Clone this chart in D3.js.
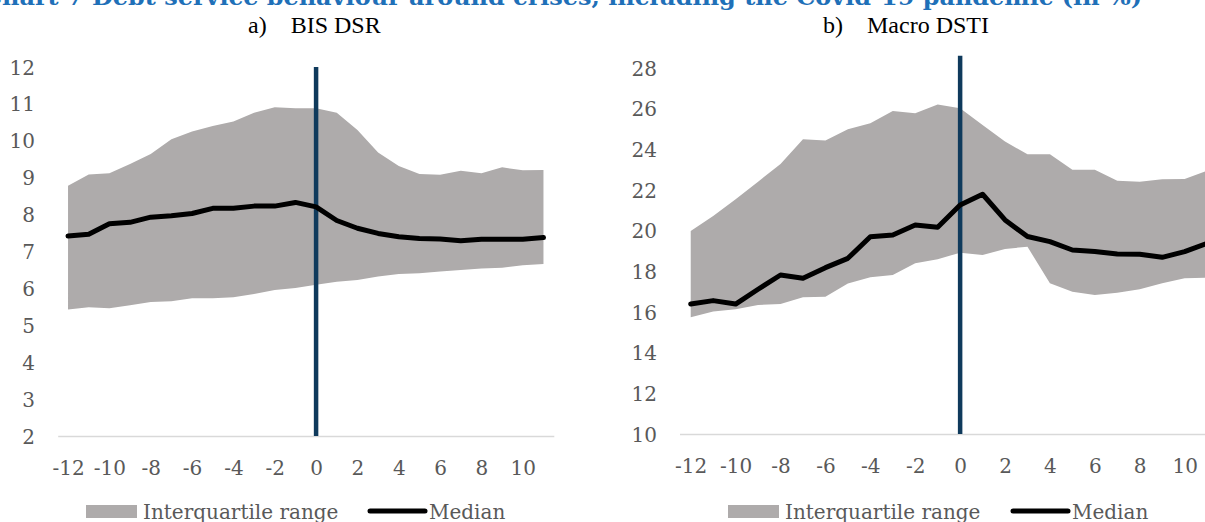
<!DOCTYPE html>
<html>
<head>
<meta charset="utf-8">
<script src="https://cdn.jsdelivr.net/npm/d3@7"></script>
<style>
  html, body { margin: 0; padding: 0; background: #ffffff; overflow: hidden; }
  svg { display: block; }
</style>
</head>
<body>
<svg id="chart" width="1205" height="522"></svg>
<script>
// ---------------- DATA ----------------
const chartTitle = "Chart 7 Debt service behaviour around crises, including the Covid-19 pandemic (in %)";
const periods = [-12,-11,-10,-9,-8,-7,-6,-5,-4,-3,-2,-1,0,1,2,3,4,5,6,7,8,9,10,11];
const xTickValues = [-12,-10,-8,-6,-4,-2,0,2,4,6,8,10];
const legendLabels = ["Interquartile range", "Median"];

// Panel a) BIS DSR
const titleA = "a)    BIS DSR";
const dsrQ1     = [5.43,5.49,5.46,5.54,5.63,5.65,5.73,5.73,5.76,5.85,5.96,6.01,6.10,6.18,6.23,6.32,6.39,6.41,6.46,6.50,6.54,6.56,6.63,6.66];
const dsrQ3     = [8.78,9.09,9.12,9.37,9.64,10.04,10.25,10.40,10.52,10.76,10.91,10.88,10.88,10.76,10.29,9.68,9.32,9.10,9.08,9.19,9.12,9.28,9.20,9.21];
const dsrMedian = [7.42,7.47,7.75,7.79,7.93,7.97,8.03,8.17,8.17,8.23,8.23,8.33,8.21,7.84,7.63,7.49,7.40,7.35,7.34,7.29,7.33,7.33,7.33,7.38];
const dsrYTicks = [2,3,4,5,6,7,8,9,10,11,12];

// Panel b) Macro DSTI
const titleB = "b)    Macro DSTI";
const dstiQ1     = [15.74,16.02,16.13,16.35,16.39,16.72,16.75,17.40,17.71,17.82,18.40,18.59,18.92,18.80,19.10,19.21,17.41,17.00,16.84,16.95,17.12,17.41,17.66,17.69];
const dstiQ3     = [19.98,20.72,21.54,22.41,23.28,24.49,24.43,24.99,25.28,25.89,25.77,26.20,26.02,25.20,24.38,23.76,23.76,22.99,22.99,22.46,22.41,22.53,22.54,22.95];
const dstiMedian = [16.39,16.56,16.39,17.12,17.82,17.66,18.18,18.64,19.70,19.79,20.28,20.17,21.26,21.79,20.53,19.71,19.46,19.05,18.97,18.85,18.84,18.69,18.97,19.38];
const dstiYTicks = [10,12,14,16,18,20,22,24,26,28];

// crisis marker (period 0) top values
const crisisPeriod = 0;
const crisisTopA = 12;
const crisisTopB = 28.6;

// ---------------- STYLE ----------------
const tickFont = "'DejaVu Serif', serif";
const subFont = "'Liberation Serif', 'Times New Roman', serif";
const tickColor = "#595959";
const bandColor = "#aeabab";
const crisisColor = "#0f3a5c";
const axisColor = "#d9d9d9";
const fmt = d => String(d);   // plain hyphen-minus as in the reference

const svg = d3.select("#chart");

// Title (cut at top in the reference)
svg.append("text")
  .attr("x", 1142).attr("y", 5)
  .attr("text-anchor", "end")
  .attr("font-family", "'DejaVu Serif', serif")
  .attr("font-weight", "bold")
  .attr("font-size", 22)
  .attr("fill", "#1f70b8")
  .attr("textLength", 1159)
  .attr("lengthAdjust", "spacingAndGlyphs")
  .text(chartTitle);

const panels = [
  { title: titleA, titleX: 248, q1: dsrQ1, q3: dsrQ3, med: dsrMedian, yTicks: dsrYTicks,
    yDomain: [2, 12], yRange: [436, 67], xRange: [57.7, 553.8], yLabelX: 35,
    crisisTop: crisisTopA, legend: { rectX: 86, textX: 143, lineX1: 370, lineX2: 425, medTextX: 429 } },
  { title: titleB, titleX: 823, q1: dstiQ1, q3: dstiQ3, med: dstiMedian, yTicks: dstiYTicks,
    yDomain: [10, 28], yRange: [434, 68], xRange: [679.5, 679.5 + 24 * 22.45], yLabelX: 657,
    crisisTop: crisisTopB, legend: { rectX: 728, textX: 785, lineX1: 1013, lineX2: 1068, medTextX: 1072 } }
];

panels.forEach(p => {
  const x = d3.scaleLinear().domain([-12.5, 11.5]).range(p.xRange);
  const y = d3.scaleLinear().domain(p.yDomain).range(p.yRange);
  const data = periods.map((t, i) => ({ t, q1: p.q1[i], q3: p.q3[i], med: p.med[i] }));

  // subtitle
  svg.append("text")
    .attr("x", p.titleX).attr("y", 33)
    .attr("font-family", subFont)
    .attr("font-size", 24)
    .attr("fill", "#000")
    .style("white-space", "pre")
    .attr("xml:space", "preserve")
    .text(p.title);

  // band
  svg.append("path")
    .datum(data)
    .attr("fill", bandColor)
    .attr("d", d3.area().x(d => x(d.t)).y0(d => y(d.q1)).y1(d => y(d.q3)));

  // x axis
  const xAxis = svg.append("g")
    .attr("transform", `translate(0,${p.yRange[0]})`)
    .call(d3.axisBottom(x).tickValues(xTickValues).tickSize(0).tickFormat(fmt));
  xAxis.select(".domain").attr("stroke", axisColor).attr("stroke-width", 1.5);
  xAxis.selectAll("text")
    .attr("y", 39).attr("dy", null)
    .attr("font-family", tickFont).attr("font-size", 20).attr("fill", tickColor);

  // y axis
  const yAxis = svg.append("g")
    .attr("transform", `translate(${p.yLabelX},0)`)
    .call(d3.axisLeft(y).tickValues(p.yTicks).tickSize(0).tickPadding(0).tickFormat(fmt));
  yAxis.select(".domain").remove();
  yAxis.selectAll("text")
    .attr("dy", "0.35em")
    .attr("font-family", tickFont).attr("font-size", 20).attr("fill", tickColor);

  // crisis line
  svg.append("line")
    .attr("x1", x(crisisPeriod)).attr("x2", x(crisisPeriod))
    .attr("y1", y(p.crisisTop)).attr("y2", p.yRange[0])
    .attr("stroke", crisisColor).attr("stroke-width", 4.5);

  // median
  svg.append("path")
    .datum(data)
    .attr("fill", "none")
    .attr("stroke", "#000")
    .attr("stroke-width", 5)
    .attr("stroke-linejoin", "round")
    .attr("stroke-linecap", "round")
    .attr("d", d3.line().x(d => x(d.t)).y(d => y(d.med)));

  // legend
  const L = p.legend;
  svg.append("rect")
    .attr("x", L.rectX).attr("y", 505).attr("width", 51).attr("height", 13)
    .attr("fill", bandColor);
  svg.append("text")
    .attr("x", L.textX).attr("y", 519)
    .attr("font-family", tickFont).attr("font-size", 20).attr("fill", tickColor)
    .text(legendLabels[0]);
  svg.append("line")
    .attr("x1", L.lineX1).attr("x2", L.lineX2).attr("y1", 511).attr("y2", 511)
    .attr("stroke", "#000").attr("stroke-width", 5).attr("stroke-linecap", "round");
  svg.append("text")
    .attr("x", L.medTextX).attr("y", 519)
    .attr("font-family", tickFont).attr("font-size", 20).attr("fill", tickColor)
    .text(legendLabels[1]);
});
</script>
</body>
</html>
